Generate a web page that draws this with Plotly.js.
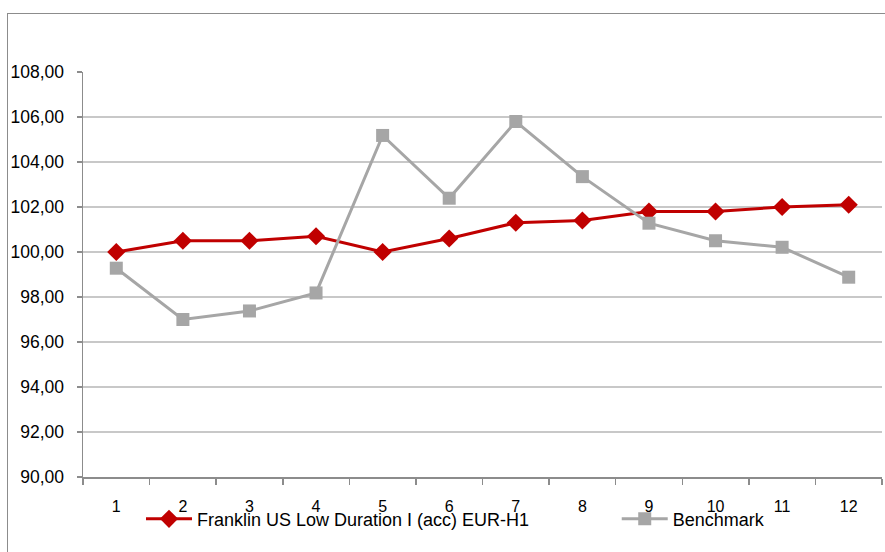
<!DOCTYPE html>
<html>
<head>
<meta charset="utf-8">
<script src="https://cdn.plot.ly/plotly-3.0.1.min.js"></script>
<style>
html,body{margin:0;padding:0;width:885px;height:552px;overflow:hidden;background:#fff;}
#frame{position:absolute;left:7px;top:13px;width:950px;height:650px;border:1px solid #8c8c8c;box-sizing:border-box;}
#chart{position:absolute;left:0;top:0;width:885px;height:552px;}
</style>
</head>
<body>
<div id="frame"></div>
<div id="chart"></div>
<script>
const categories = ['1','2','3','4','5','6','7','8','9','10','11','12'];
const fundName = 'Franklin US Low Duration I (acc) EUR-H1';
const fundValues = [100.0, 100.5, 100.5, 100.7, 100.0, 100.6, 101.3, 101.4, 101.8, 101.8, 102.0, 102.1];
const benchName = 'Benchmark';
const benchValues = [99.28, 97.0, 97.38, 98.18, 105.18, 102.39, 105.8, 103.35, 101.28, 100.5, 100.21, 98.88];
const yTicks = [90, 92, 94, 96, 98, 100, 102, 104, 106, 108];

const traces = [
  {
    x: categories, y: fundValues, name: fundName, type: 'scatter', mode: 'lines+markers',
    line: {color: '#c00000', width: 3},
    marker: {symbol: 'diamond', size: 14, color: '#c00000'},
    legend: 'legend'
  },
  {
    x: categories, y: benchValues, name: benchName, type: 'scatter', mode: 'lines+markers',
    line: {color: '#a6a6a6', width: 3},
    marker: {symbol: 'square', size: 13, color: '#a6a6a6'},
    legend: 'legend2'
  }
];

const legendCommon = {
  orientation: 'h', xanchor: 'left', y: -0.104, yanchor: 'middle',
  bgcolor: 'rgba(0,0,0,0)', itemwidth: 46,
  font: {size: 18}
};

const layout = {
  width: 885, height: 552,
  margin: {l: 83, r: 3, t: 72, b: 75, pad: 0},
  paper_bgcolor: 'rgba(0,0,0,0)',
  plot_bgcolor: 'rgba(0,0,0,0)',
  separators: ',.',
  font: {family: 'Liberation Sans, Arial, sans-serif', size: 16, color: '#000'},
  showlegend: true,
  xaxis: {
    type: 'category', range: [-0.5, 11.5],
    tickson: 'boundaries', ticks: 'outside', ticklen: 6, tickcolor: '#8c8c8c', tickwidth: 1.5,
    showline: true, linecolor: '#8c8c8c', linewidth: 1.5,
    showgrid: false, zeroline: false,
    ticklabelstandoff: 14,
    tickfont: {size: 16}
  },
  yaxis: {
    range: [90, 108], tickvals: yTicks, tickformat: '.2f',
    ticks: 'outside', ticklen: 5, tickcolor: '#8c8c8c', tickwidth: 1.5,
    showline: true, linecolor: '#8c8c8c', linewidth: 1.5,
    showgrid: true, gridcolor: '#c8c8c8', gridwidth: 1.5,
    zeroline: false,
    ticklabelstandoff: 9,
    tickfont: {size: 17.5}
  },
  legend: Object.assign({}, legendCommon, {x: 0.0726}),
  legend2: Object.assign({}, legendCommon, {x: 0.668})
};

Plotly.newPlot('chart', traces, layout, {displayModeBar: false, staticPlot: true});
</script>
</body>
</html>
